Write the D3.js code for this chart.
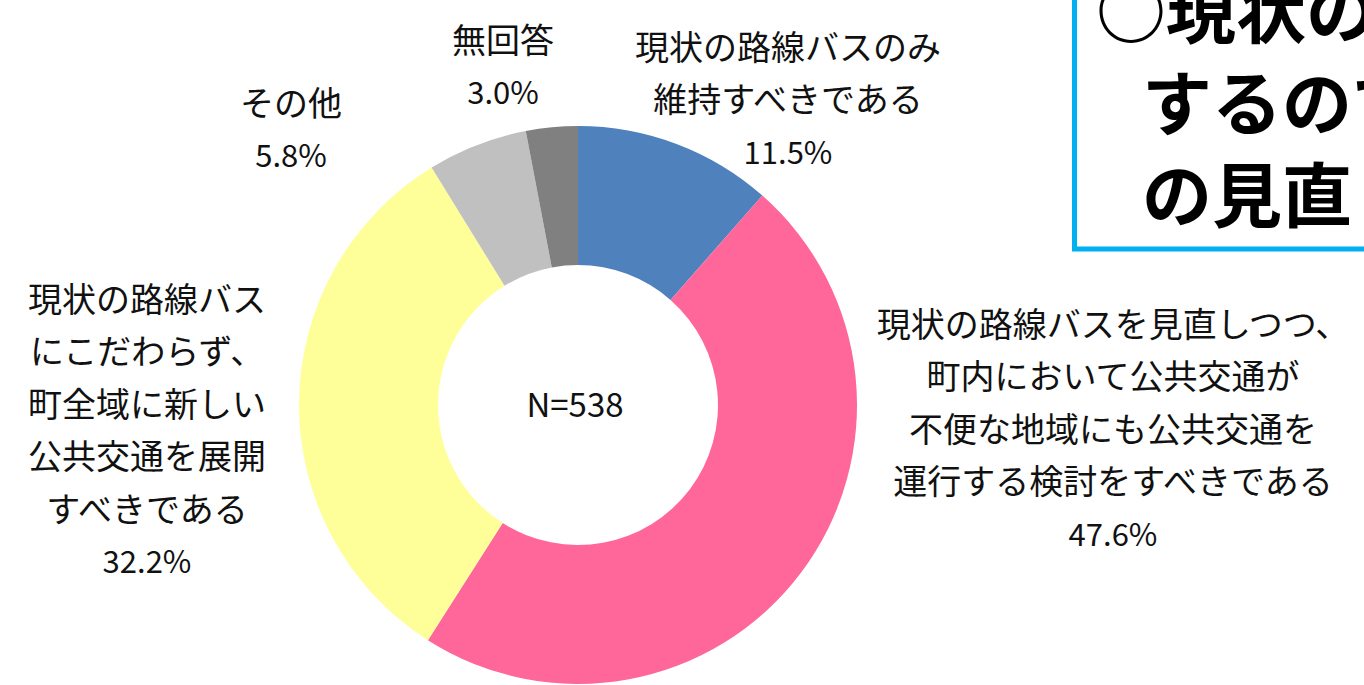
<!DOCTYPE html>
<html>
<head>
<meta charset="utf-8">
<script src="https://cdn.jsdelivr.net/npm/d3@7"></script>
<style>
    html, body { margin: 0; padding: 0; background: #fff; overflow: hidden; }
    svg { display: block; }
    text { font-family: "Noto Sans CJK JP", "Noto Sans", sans-serif; fill: #111; }
</style>
</head>
<body>
<svg id="chart" width="1364" height="685"></svg>
<script>
// answer categories, split into the lines used on the chart
let labelLines = [
    ["現状の路線バスのみ", "維持すべきである"],
    ["現状の路線バスを見直しつつ、", "町内において公共交通が", "不便な地域にも公共交通を", "運行する検討をすべきである"],
    ["現状の路線バス", "にこだわらず、", "町全域に新しい", "公共交通を展開", "すべきである"],
    ["その他"],
    ["無回答"]
];
let shares = [11.5, 47.6, 32.2, 5.8, 3.0];
let colors = ["#4f81bd", "#ff6699", "#ffff99", "#c0c0c0", "#808080"];
let sampleSize = 538;

// where each label block is anchored (center x, first line y)
let labelAnchors = [[788, 45], [1113, 322], [147, 297], [291, 101], [503, 38]];

let titleLines = ["○現状の路線バスを維持", "するのではなく", "の見直しを"];

let SVG = d3.select("#chart");
let cx = 578, cy = 405;
let outerR = 279, innerR = 140;
let lineH = 52.5;

let pie = d3.pie().sort(null).value(d => d);
let arc = d3.arc().innerRadius(innerR).outerRadius(outerR);

let donut = SVG.append("g")
    .attr("transform", "translate(" + cx + "," + cy + ")");

donut.selectAll("path")
    .data(pie(shares))
    .enter()
    .append("path")
    .attr("d", arc)
    .style("fill", (d, i) => colors[i]);

donut.append("text")
    .attr("text-anchor", "middle")
    .attr("dominant-baseline", "central")
    .attr("x", -3)
    .attr("y", -2)
    .style("font-size", "33px")
    .text("N=" + sampleSize);

// slice labels with the share under them
let labels = SVG.selectAll("g.label")
    .data(labelLines)
    .enter()
    .append("g")
    .attr("class", "label")
    .attr("transform", (d, i) => "translate(" + labelAnchors[i][0] + "," + labelAnchors[i][1] + ")");

labels.each(function (lines, i) {
    let g = d3.select(this);
    lines.concat([shares[i].toFixed(1) + "%"]).forEach((t, j) => {
        g.append("text")
            .attr("text-anchor", "middle")
            .attr("dominant-baseline", "central")
            .attr("y", j * lineH)
            .style("font-size", j === lines.length ? "31px" : "34px")
            .text(t);
    });
});

// the boxed heading on the right, cut by the edge of the page
let box = SVG.append("g");
box.append("rect")
    .attr("x", 1074.5)
    .attr("y", -20)
    .attr("width", 400)
    .attr("height", 269)
    .style("fill", "#fff")
    .style("stroke", "#00b0f0")
    .style("stroke-width", 5);

box.selectAll("text")
    .data(titleLines)
    .enter()
    .append("text")
    .attr("x", (d, i) => i === 0 ? 1096 : 1142)
    .attr("y", (d, i) => 7 + i * 92)
    .attr("dominant-baseline", "central")
    .style("font-size", "70px")
    .style("font-weight", "bold")
    .style("fill", "#000")
    .text(d => d);
</script>
</body>
</html>
